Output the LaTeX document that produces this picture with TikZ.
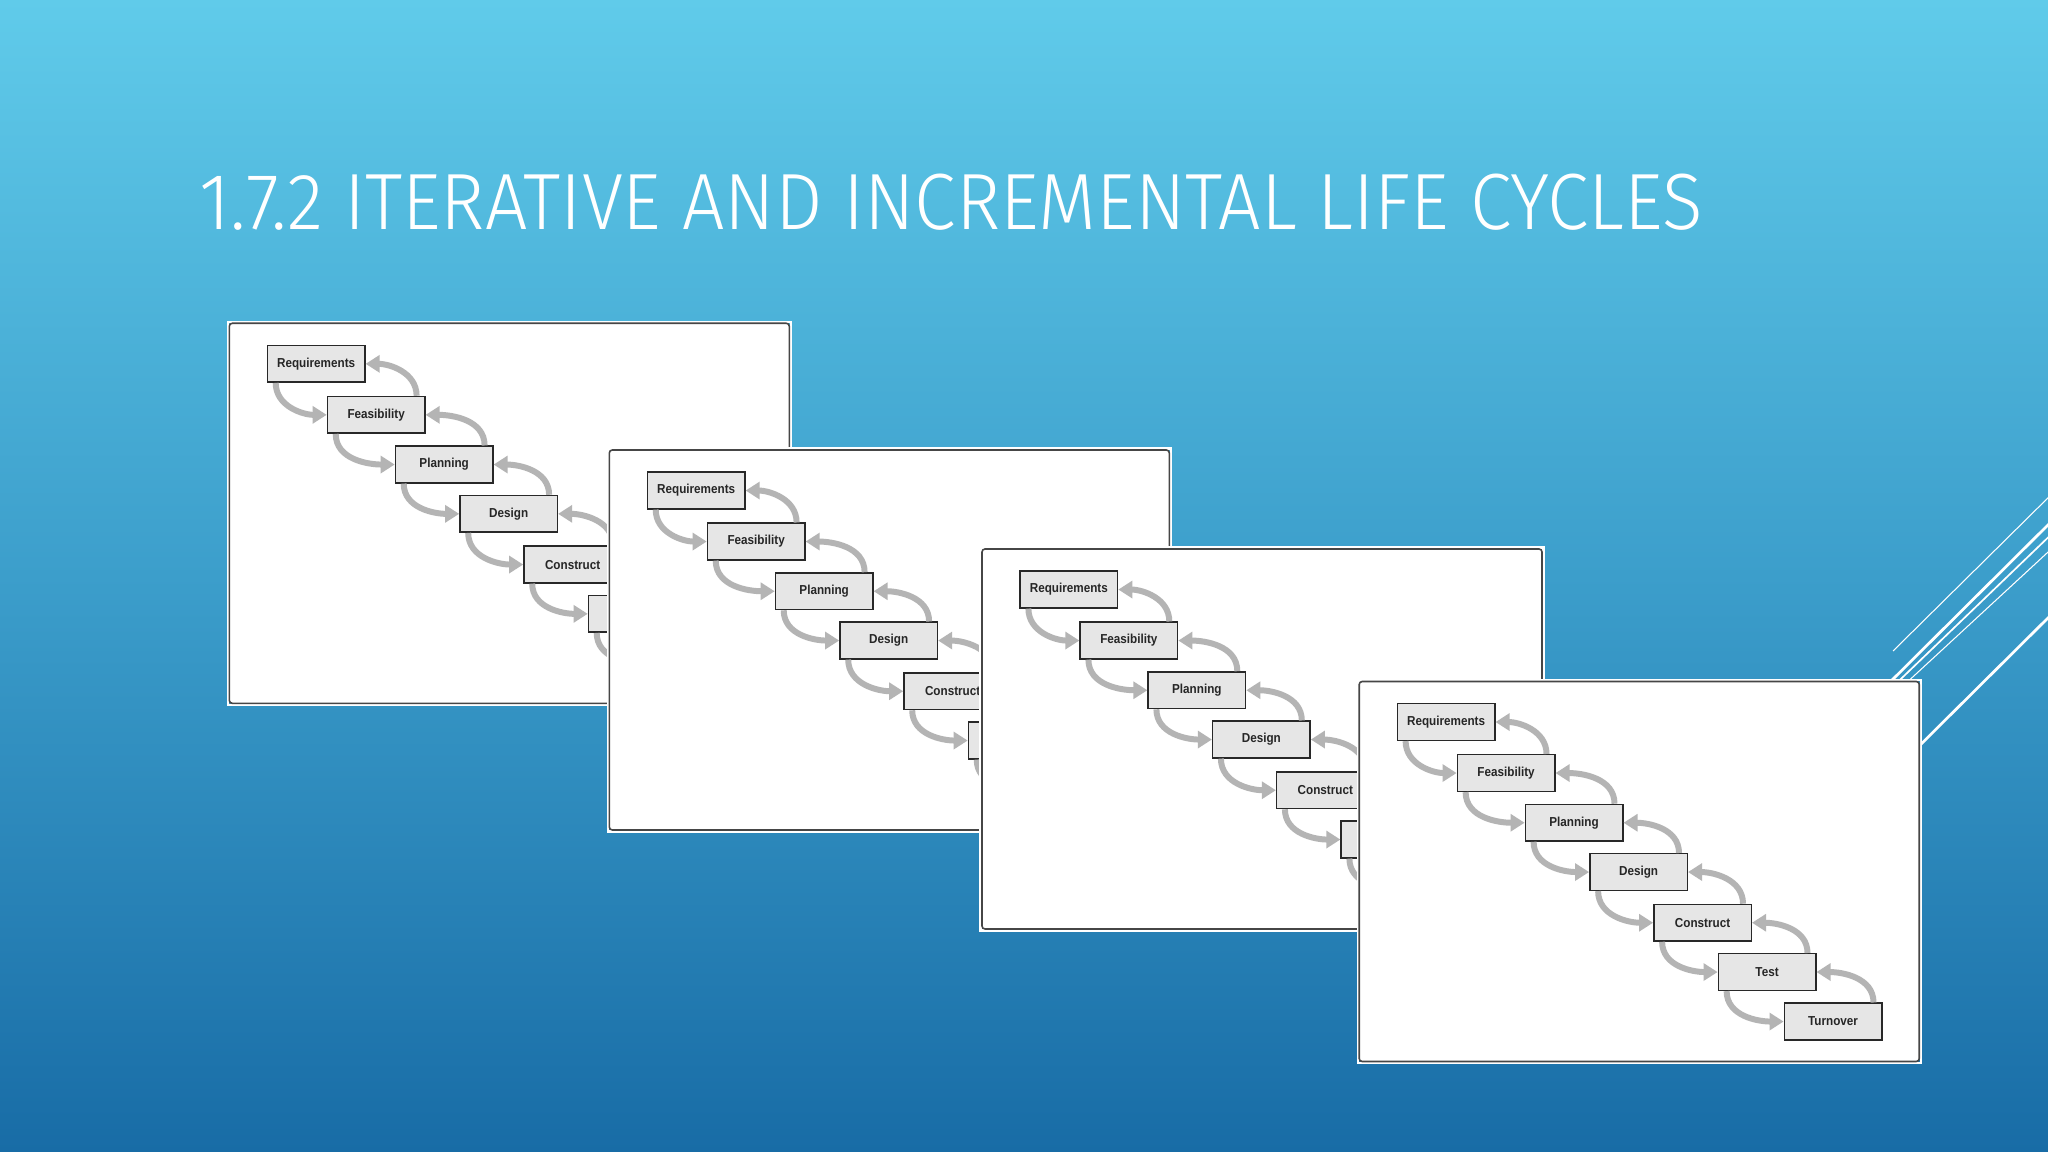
\documentclass[tikz,border=0pt]{standalone}
\usepackage{fontspec}
\usetikzlibrary{arrows.meta}
\newfontfamily\boxfont[FakeStretch=0.9]{Liberation Sans}
\IfFontExistsTF{Fira Sans Light}{\newfontfamily\titlefont[FakeStretch=0.94]{Fira Sans Light}}{\newfontfamily\titlefont[FakeStretch=0.88]{Open Sans}}
\definecolor{bgT}{RGB}{96,203,234}
\definecolor{bgM}{RGB}{60,158,203}
\definecolor{bgB}{RGB}{24,108,166}
\definecolor{boxfill}{RGB}{230,230,230}
\definecolor{boxline}{RGB}{40,40,40}
\definecolor{arrowgray}{RGB}{180,180,180}
\definecolor{panelline}{RGB}{70,70,70}
\pgfdeclareverticalshading{slidebg}{100bp}{color(0bp)=(bgB); color(25bp)=(bgB); color(50bp)=(bgM); color(75bp)=(bgT); color(100bp)=(bgT)}
\tikzset{
  stage/.style={draw=boxline, fill=boxfill, line width=0.4pt, minimum width=9.75mm,
    minimum height=3.67mm, inner sep=0pt, anchor=north west,
    font=\boxfont\bfseries\fontsize{3.7}{4}\selectfont, text=black!85},
  flow/.style={draw=arrowgray, line width=1.7pt, -{Triangle[length=4pt,width=4.8pt]}},
  panelring/.style={draw=white, line width=0.6pt},
  panelbox/.style={draw=panelline, fill=white, line width=0.45pt, rounded corners=0.3mm},
  deco/.style={draw=white, line cap=butt},
}
\newcommand{\lcpanel}[4]{%
\begin{scope}[shift={(#2,#3)}]
  \draw[panelring] (-1.5,-1.5) rectangle (561.5,381.5);
  \draw[panelbox] (0,0) rectangle (560,380);
  \node[stage] (#1r) at (37.4,21.5) {Requirements};
  \node[stage] (#1f) at (97.4,72.5) {Feasibility};
  \node[stage] (#1p) at (165.4,122.2) {Planning};
  \node[stage] (#1d) at (229.9,171.5) {Design};
  \node[stage] (#1c) at (293.9,222.2) {Construct};
  \node[stage] (#1t) at (358.4,271.5) {\ifnum#4=1 Test\fi};
  \node[stage] (#1o) at (424.4,321) {\ifnum#4=1 Turnover\fi};
  \foreach \a/\b in {r/f,f/p,p/d,d/c,c/t,t/o} {
    \draw[flow] ([xshift=0.9mm]#1\a.south west) to[out=-90,in=180] (#1\b.west);
    \draw[flow] ([xshift=-0.9mm]#1\b.north east) to[out=90,in=0] (#1\a.east);
  }
\end{scope}}
\begin{document}
\begin{tikzpicture}[x=0.1mm,y=-0.1mm]
\useasboundingbox (0,0) rectangle (2048,1152);
\shade[shading=slidebg] (0,0) rectangle (2048,1152);
\node[anchor=base west, inner sep=0pt, text=white, font=\titlefont\fontsize{22.7}{24}\selectfont] (title) at (199,230) {1.7.2 ITERATIVE AND INCREMENTAL LIFE CYCLES};
% decorative lines
\coordinate (l1a) at (1893,651); \coordinate (l1b) at (2060,486);
\coordinate (l2a) at (1870,702); \coordinate (l2b) at (2060,513);
\coordinate (l3a) at (1880,699); \coordinate (l3b) at (2060,526);
\coordinate (l4a) at (1890,698); \coordinate (l4b) at (2060,541);
\coordinate (l5a) at (1900,765); \coordinate (l5b) at (2060,606);
\draw[deco, line width=0.3pt] (l1a) -- (l1b);
\draw[deco, line width=0.77pt] (l2a) -- (l2b);
\draw[deco, line width=0.48pt] (l3a) -- (l3b);
\draw[deco, line width=0.3pt] (l4a) -- (l4b);
\draw[deco, line width=0.77pt] (l5a) -- (l5b);
\lcpanel{a}{229.3}{323.3}{0}
\lcpanel{b}{609.3}{450}{0}
\lcpanel{c}{982}{549}{0}
\lcpanel{d}{1359.2}{681.5}{1}
\end{tikzpicture}
\end{document}
